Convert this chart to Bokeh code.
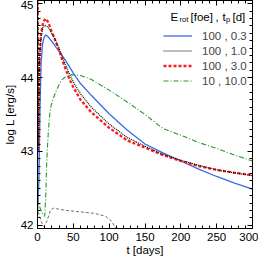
from bokeh.plotting import figure
from bokeh.models import (LinearAxis, SingleIntervalTicker, Range1d, Legend, LegendItem, Label,
                          CustomJSTickFormatter)
from bokeh.embed import file_html
from bokeh.resources import INLINE

# ---- data ----
t_blue = [0, 2, 3.5, 5, 7, 9, 11.5, 15, 20, 26, 33, 40, 50, 60, 75, 100, 125, 150, 175, 200, 225, 250, 275, 300]
L_blue = [42.2, 42.6, 43.6, 44.2, 44.45, 44.54, 44.58, 44.55, 44.49, 44.41, 44.32, 44.22, 44.06, 43.92, 43.76, 43.51, 43.29, 43.10, 42.98, 42.87, 42.76, 42.66, 42.57, 42.49]

t_black = [0, 1, 2, 3, 5, 7.5, 10, 15, 20, 24, 30, 37, 45, 50, 60, 75, 100, 125, 150, 175, 200, 225, 250, 275, 300]
L_black = [45.5, 43.0, 43.9, 44.3, 44.55, 44.68, 44.71, 44.68, 44.60, 44.53, 44.40, 44.22, 44.04, 43.94, 43.78, 43.60, 43.37, 43.19, 43.07, 42.96, 42.88, 42.81, 42.75, 42.71, 42.67]

t_red = [0, 1, 2, 3, 5, 8, 11.5, 15, 20, 25, 30, 37, 45, 50, 60, 75, 100, 125, 150, 175, 200, 225, 250, 275, 300]
L_red = [45.5, 43.0, 43.8, 44.3, 44.6, 44.76, 44.80, 44.75, 44.62, 44.50, 44.37, 44.17, 43.97, 43.87, 43.70, 43.53, 43.32, 43.15, 43.05, 42.95, 42.87, 42.80, 42.75, 42.71, 42.68]

t_green = [0, 0.5, 3, 7, 10, 11.5, 13, 15, 17, 19, 22, 26, 33, 40, 47, 60, 74, 88, 100, 125, 150, 175, 200, 225, 250, 275, 300]
L_green = [45.5, 42.33, 42.25, 42.15, 42.12, 42.4, 42.9, 43.25, 43.5, 43.62, 43.72, 43.82, 43.96, 44.02, 44.04, 44.03, 43.98, 43.90, 43.83, 43.67, 43.50, 43.31, 43.22, 43.12, 43.04, 42.95, 42.87]

t_gray = [0, 0.5, 3, 6, 9, 13, 18, 22, 40, 60, 80, 95, 103, 108, 112]
L_gray = [45.5, 42.2, 42.12, 42.03, 41.98, 42.05, 42.2, 42.23, 42.2, 42.18, 42.16, 42.12, 42.06, 41.98, 41.9]

legend_labels = ["100 , 0.3", "100 , 1.0", "100 , 3.0", "10 , 10.0"]

FONT = "Liberation Sans"
FS = "11.5px"

p = figure(width=258, height=258, output_backend="svg", toolbar_location=None,
           x_range=Range1d(0, 300), y_range=Range1d(41.955, 45.045),
           min_border_left=33, min_border_right=6, min_border_top=0, min_border_bottom=30,
           x_axis_type=None, y_axis_type=None)
p.grid.visible = False
p.outline_line_color = "black"
p.outline_line_width = 1
p.background_fill_color = "white"

xt = SingleIntervalTicker(interval=50, num_minor_ticks=5)
yt = SingleIntervalTicker(interval=1, num_minor_ticks=10)

def style(ax, show_labels):
    ax.major_tick_in = 5
    ax.major_tick_out = 0
    ax.minor_tick_in = 3
    ax.minor_tick_out = 0
    ax.axis_line_color = "black"
    ax.major_tick_line_color = "black"
    ax.minor_tick_line_color = "black"
    if show_labels:
        ax.major_label_text_font = FONT
        ax.major_label_text_font_size = FS
        ax.major_label_text_color = "black"
        ax.axis_label_text_font = FONT
        ax.axis_label_text_font_size = FS
        ax.axis_label_text_font_style = "normal"
        ax.axis_label_text_color = "black"
    else:
        ax.formatter = CustomJSTickFormatter(code="return ''")
        ax.major_label_standoff = 0

xb = LinearAxis(ticker=xt, axis_label="t [days]")
style(xb, True)
xb.major_label_standoff = 4
xb.axis_label_standoff = 0
p.add_layout(xb, "below")

yl = LinearAxis(ticker=yt, axis_label="log L [erg/s]")
style(yl, True)
yl.major_label_standoff = 4
yl.axis_label_standoff = 2
p.add_layout(yl, "left")

xa = LinearAxis(ticker=xt)
style(xa, False)
p.add_layout(xa, "above")
yr = LinearAxis(ticker=yt)
style(yr, False)
p.add_layout(yr, "right")

r_gray = p.line(t_gray, L_gray, line_color="#707070", line_width=1, line_dash="3 2")
r_blue = p.line(t_blue, L_blue, line_color="#3a6ae8", line_width=1.3)
r_red = p.line(t_red, L_red, line_color="#ff1a1a", line_width=2.3, line_dash="3 2")
r_black = p.line(t_black, L_black, line_color="black", line_width=1.2, line_dash="1 1")
r_green = p.line(t_green, L_green, line_color="#22992a", line_width=1.1, line_dash="5 2 1 2")

legend = Legend(items=[LegendItem(label=legend_labels[0], renderers=[r_blue]),
                       LegendItem(label=legend_labels[1], renderers=[r_black]),
                       LegendItem(label=legend_labels[2], renderers=[r_red]),
                       LegendItem(label=legend_labels[3], renderers=[r_green])],
                location=(126, 140), glyph_width=29, glyph_height=15, label_height=15,
                spacing=0, padding=0, margin=0, label_standoff=10,
                border_line_alpha=0, background_fill_alpha=0,
                label_text_font=FONT, label_text_font_size=FS)
p.add_layout(legend)

ty = 212
parts = [("E", 133, ty, FS), ("rot", 142, ty - 3, "7.5px"), ("[foe]", 153, ty, FS),
         (",", 178, ty, FS), ("t", 185, ty, FS), ("p", 188.5, ty - 3, "7.5px"), ("[d]", 195, ty, FS)]
for txt, x, y, fs in parts:
    p.add_layout(Label(x=x, y=y, x_units="screen", y_units="screen", text=txt,
                       text_font=FONT, text_font_size=fs, text_baseline="middle",
                       text_color="black"))

open("out.html", "w").write(file_html(p, INLINE))
